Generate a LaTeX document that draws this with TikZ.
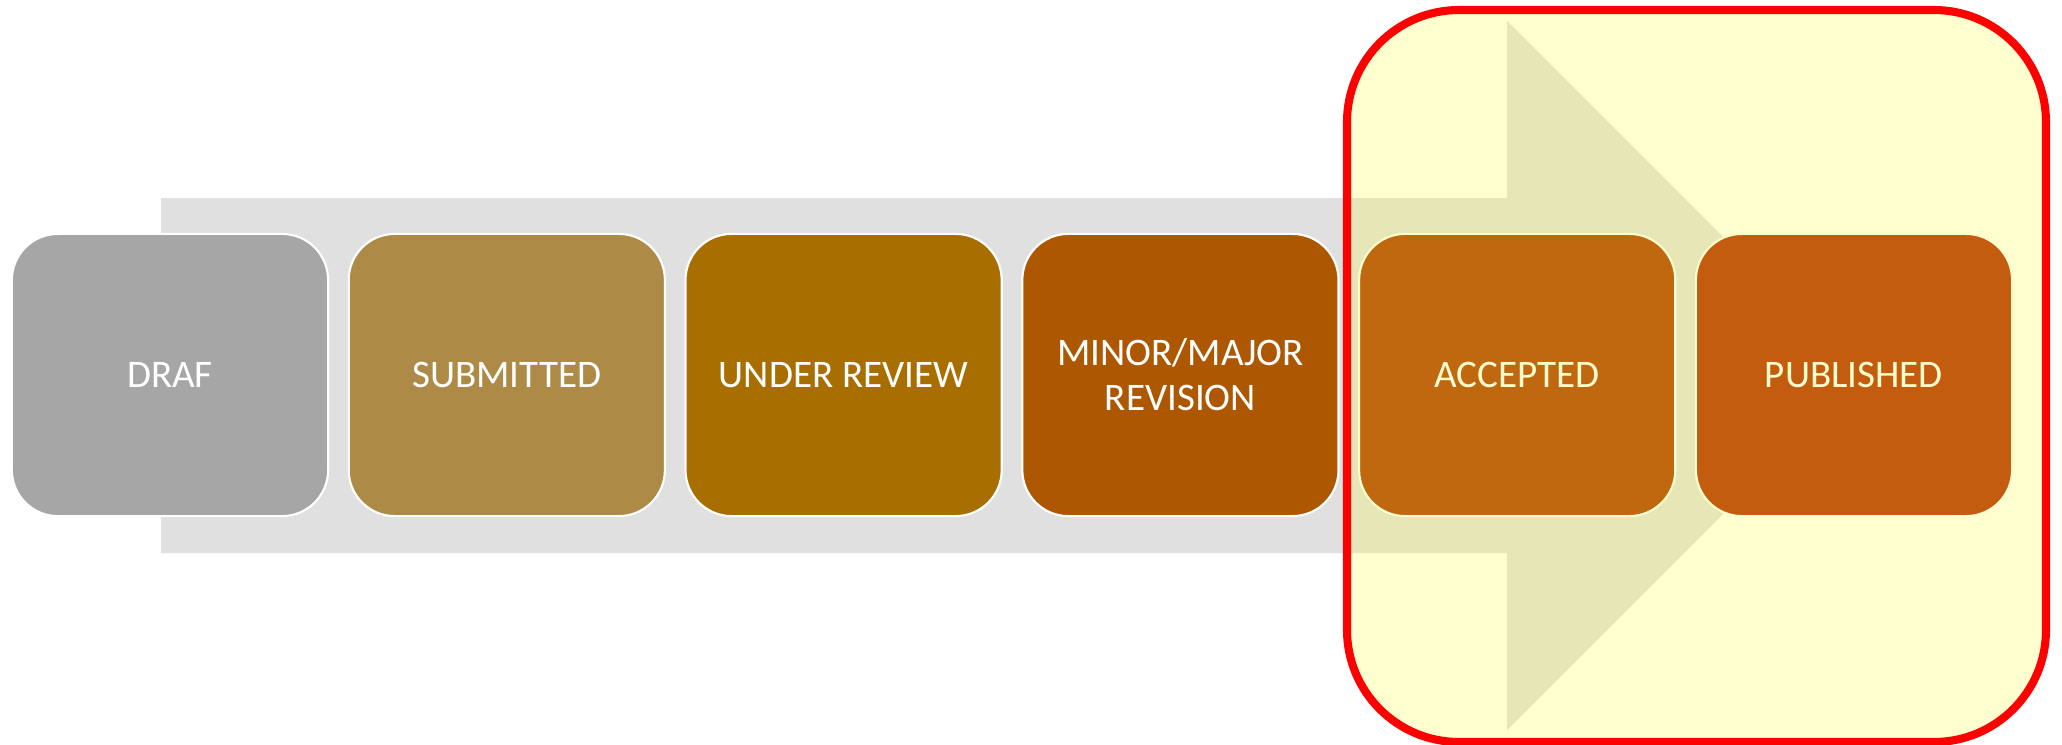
\documentclass[tikz,border=0pt]{standalone}
\usepackage{fontspec}
\setmainfont{Carlito}
\definecolor{arrowgray}{RGB}{224,224,224}
\definecolor{cDraf}{RGB}{166,166,166}
\definecolor{cSub}{RGB}{174,138,71}
\definecolor{cRev}{RGB}{168,110,0}
\definecolor{cMin}{RGB}{173,87,0}
\definecolor{cAcc}{RGB}{172,56,0}
\definecolor{cPub}{RGB}{176,40,0}
\definecolor{overlayyellow}{RGB}{255,250,60}
\definecolor{framered}{RGB}{255,0,0}
\tikzset{
  stage/.style={draw=white, line width=0.6pt, rounded corners=0.46cm,
    minimum width=3.16cm, minimum height=2.82cm, inner sep=0pt,
    text=white, align=center, font=\fontsize{11.1}{12.8}\selectfont},
  bigarrow/.style={fill=arrowgray, draw=none},
  highlight/.style={fill=overlayyellow, fill opacity=0.25, draw=framered,
    draw opacity=1, line width=2.3pt, rounded corners=1.12cm}
}
\begin{document}
\begin{tikzpicture}[x=0.01cm, y=-0.01cm]
\useasboundingbox (0,0) rectangle (2062,745);
% background process arrow
\path[bigarrow] (161,198) -- (1507,198) -- (1507,21) -- (1861.5,375.5)
  -- (1507,730) -- (1507,553) -- (161,553) -- cycle;
% stages
\node[stage, fill=cDraf] (draf) at (170,375) {DRAF};
\node[stage, fill=cSub]  (sub)  at (506.8,375) {SUBMITTED};
\node[stage, fill=cRev]  (rev)  at (843.6,375) {UNDER REVIEW};
\node[stage, fill=cMin]  (min)  at (1180.4,375) {MINOR/MAJOR\\REVISION};
\node[stage, fill=cAcc]  (acc)  at (1517.2,375) {ACCEPTED};
\node[stage, fill=cPub]  (pub)  at (1854,375) {PUBLISHED};
% highlight frame
\path[highlight] (1347,10) rectangle (2046,742);
\end{tikzpicture}
\end{document}
